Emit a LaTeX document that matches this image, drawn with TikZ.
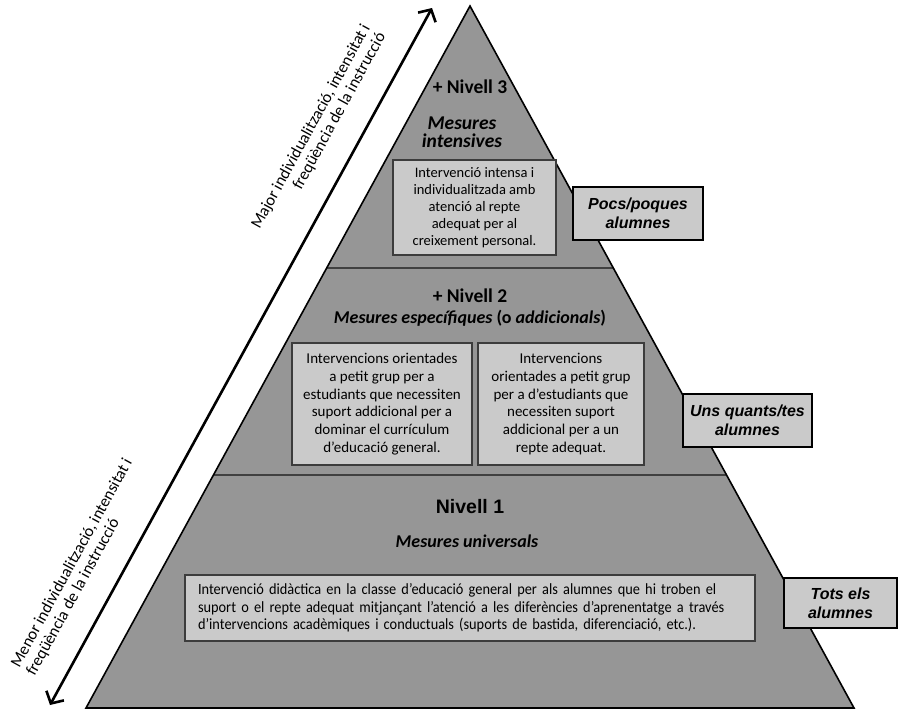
\documentclass[tikz,border=0pt]{standalone}
\usepackage{fontspec}
\setmainfont{Carlito}
\newfontfamily\arialfont{Liberation Sans}
\newfontfamily\narrowfont{Carlito}[FakeStretch=0.92]
\usetikzlibrary{calc,arrows.meta}

\definecolor{pyrfill}{RGB}{150,150,150}
\definecolor{boxfill}{RGB}{202,202,202}
\definecolor{boxline}{RGB}{60,60,60}
\definecolor{tierline}{RGB}{64,64,64}

\tikzset{
  tierbox/.style={draw=boxline, fill=boxfill, line width=1.1pt, align=center, inner sep=0pt},
  sidebox/.style={draw=black, fill=boxfill, line width=1.4pt, align=center, inner sep=0pt,
    font=\arialfont\bfseries\itshape\fontsize{16}{19}\selectfont},
  tiertitle/.style={anchor=base, inner sep=0pt, font=\bfseries\fontsize{19.5}{22}\selectfont},
  tiersub/.style={anchor=base, inner sep=0pt, font=\bfseries\itshape\fontsize{18}{21}\selectfont},
  axislabel/.style={sloped, inner sep=0pt, font=\fontsize{16.5}{17.5}\selectfont},
  axisarrow/.style={line width=2.6pt, {Straight Barb[length=9pt,width=20pt]}-{Straight Barb[length=9pt,width=20pt]}},
}

\begin{document}
\begin{tikzpicture}[x=1pt,y=-1pt]
  \useasboundingbox (0,0) rectangle (906,712);

  % pyramid outline
  \coordinate (apex) at (470,6);
  \coordinate (bl) at (86,708);
  \coordinate (br) at (854,708);
  \fill[pyrfill] (apex) -- (bl) -- (br) -- cycle;

  % tier boundaries
  \coordinate (l32) at ($(apex)!0.3732!(bl)$);
  \coordinate (r32) at ($(apex)!0.3732!(br)$);
  \coordinate (l21) at ($(apex)!0.6681!(bl)$);
  \coordinate (r21) at ($(apex)!0.6681!(br)$);
  \draw[tierline, line width=2.4pt] (l32) -- (r32);
  \draw[tierline, line width=2.4pt] (l21) -- (r21);
  \draw[black, line width=1.6pt, line join=miter] (apex) -- (bl) -- (br) -- cycle;

  % tier 3
  \node[tiertitle] (t3title) at (470,93) {+ Nivell 3};
  \node[tiersub, font=\bfseries\itshape\fontsize{19.5}{21}\selectfont] (t3subA) at (462,129) {Mesures};
  \node[tiersub, font=\bfseries\itshape\fontsize{19.5}{21}\selectfont] (t3subB) at (462,147) {intensives};
  \node[tierbox, minimum width=163pt, minimum height=95pt,
        font=\fontsize{14.5}{17.1}\selectfont] (t3box) at (474.5,207.5)
    {Intervenció intensa i\\individualitzada amb\\atenció al repte\\adequat per al\\creixement personal.};

  % tier 2
  \node[tiertitle] (t2title) at (470,302) {+ Nivell 2};
  \node[anchor=base, inner sep=0pt, font=\bfseries\fontsize{18}{21}\selectfont] (t2sub) at (470,323)
    {\itshape Mesures específiques \upshape(o \itshape addicionals\upshape)};
  \node[tierbox, minimum width=180pt, minimum height=122pt,
        font=\fontsize{15}{17.8}\selectfont] (t2boxA) at (382,404)
    {Intervencions orientades\\a petit grup per a\\estudiants que necessiten\\suport addicional per a\\dominar el currículum\\d’educació general.};
  \node[tierbox, minimum width=166pt, minimum height=122pt,
        font=\fontsize{15}{17.8}\selectfont] (t2boxB) at (561,404)
    {Intervencions\\orientades a petit grup\\per a d’estudiants que\\necessiten suport\\addicional per a un\\repte adequat.};

  % tier 1
  \node[anchor=base, inner sep=0pt, font=\arialfont\bfseries\fontsize{19.5}{22}\selectfont] (t1title) at (470,513) {Nivell 1};
  \node[tiersub] (t1sub) at (467,547) {Mesures universals};
  \node[tierbox, text width=544pt, inner xsep=13pt, minimum height=66pt, align=left,
        font=\narrowfont\fontsize{15.6}{17.5}\selectfont] (t1box) at (470,608)
    {Intervenció didàctica en la classe d’educació general per als alumnes que hi troben el\\
     suport o el repte adequat mitjançant l’atenció a les diferències d’aprenentatge a través\\
     d’intervencions acadèmiques i conductuals (suports de bastida, diferenciació, etc.).};

  % group sizes
  \node[sidebox, minimum width=130pt, minimum height=53pt] (few) at (638,213.5) {Pocs/poques\\alumnes};
  \node[sidebox, minimum width=129pt, minimum height=53pt] (some) at (747.5,420.5) {Uns quants/tes\\alumnes};
  \node[sidebox, minimum width=113pt, minimum height=50pt] (all) at (840.5,603) {Tots els\\alumnes};

  % intensity axis
  \coordinate (arrLo) at (50,705);
  \coordinate (arrHi) at (432,8);
  \draw[axisarrow] (arrLo) --
    node[axislabel, pos=0.17, above=23pt, align=left] (lesslabel) {Menor individualització, intensitat i\\freqüència de la instrucció}
    node[axislabel, pos=0.796, above=23pt, align=right] (morelabel) {Major individualització, intensitat i\\freqüència de la instrucció}
    (arrHi);
\end{tikzpicture}
\end{document}
